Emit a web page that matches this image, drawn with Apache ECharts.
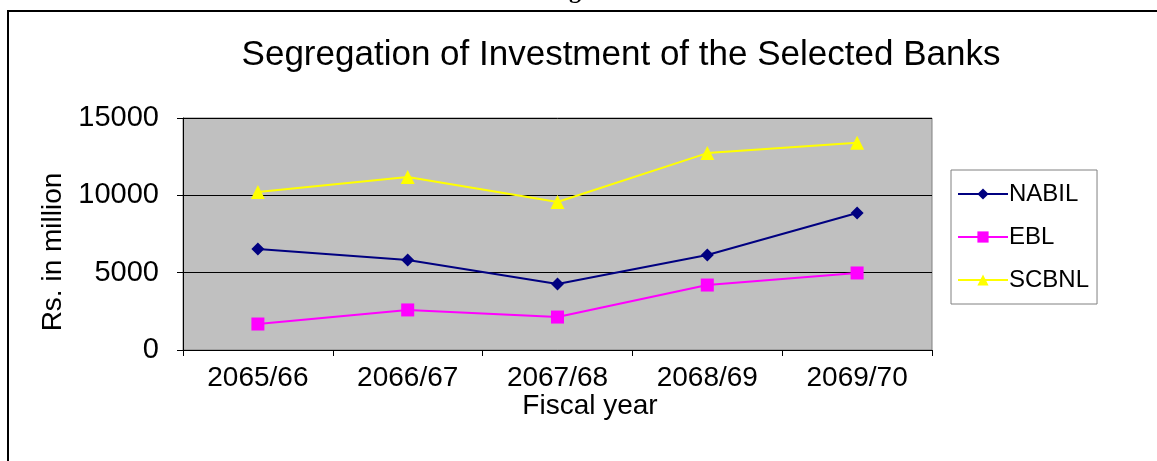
<!DOCTYPE html>
<html><head><meta charset="utf-8">
<script src="https://cdn.jsdelivr.net/npm/echarts@6/dist/echarts.min.js"></script>
<style>html,body{margin:0;padding:0;background:#fff}#c{width:1157px;height:461px}</style>
</head><body><div id="c"></div>
<script>
const categories = ['2065/66','2066/67','2067/68','2068/69','2069/70'];
const nabil = [6530, 5820, 4270, 6140, 8860];
const ebl = [1680, 2590, 2130, 4200, 4980];
const scbnl = [10210, 11180, 9570, 12730, 13400];
const yTicks = [0, 5000, 10000, 15000];

const F = 'Liberation Sans, Arial, sans-serif';
const chart = echarts.init(document.getElementById('c'));
chart.setOption({
  backgroundColor: '#ffffff',
  animation: false,
  title: {
    text: 'Segregation of Investment of the Selected Banks',
    left: 616, textAlign: 'center', top: 33,
    textStyle: {fontFamily: F, fontSize: 35, fontWeight: 'normal', color: '#000'}
  },
  grid: {left: 183, top: 118, right: 225, bottom: 111, show: true, backgroundColor: '#c0c0c0', borderColor: '#808080', borderWidth: 1},
  legend: {
    orient: 'vertical', left: 951, top: 170,
    width: 146,
    padding: [12, 8, 12, 6],
    itemGap: 19,
    itemWidth: 50, itemHeight: 14,
    borderColor: '#808080', borderWidth: 1,
    backgroundColor: '#fff',
    textStyle: {fontFamily: F, fontSize: 24, color: '#000', padding: [0,0,0,-4]},
    data: ['NABIL','EBL','SCBNL']
  },
  xAxis: {
    type: 'category', data: categories, boundaryGap: true,
    axisLine: {lineStyle: {color: '#000', width: 1}},
    axisTick: {show: true, length: 6, lineStyle: {color: '#000'}},
    axisLabel: {fontFamily: F, fontSize: 28, color: '#000', margin: 14}
  },
  yAxis: {
    type: 'value', min: yTicks[0], max: yTicks[yTicks.length-1], interval: 5000,
    axisLine: {show: true, lineStyle: {color: '#000', width: 1}},
    axisTick: {show: true, length: 6, lineStyle: {color: '#000'}},
    axisLabel: {fontFamily: F, fontSize: 29, color: '#000', margin: 24, formatter: v => String(v)},
    splitLine: {show: true, lineStyle: {color: '#000', width: 1}}
  },
  series: [
    {name: 'NABIL', type: 'line', data: nabil, symbol: 'diamond', symbolSize: 13,
     lineStyle: {color: '#000080', width: 2}, itemStyle: {color: '#000080'}},
    {name: 'EBL', type: 'line', data: ebl, symbol: 'rect', symbolSize: 13,
     lineStyle: {color: '#ff00ff', width: 2}, itemStyle: {color: '#ff00ff'}},
    {name: 'SCBNL', type: 'line', data: scbnl, symbol: 'triangle', symbolSize: 14,
     lineStyle: {color: '#ffff00', width: 2}, itemStyle: {color: '#ffff00'}}
  ],
  graphic: [
    {type: 'line', shape: {x1: 7, y1: 11, x2: 1157, y2: 11}, style: {stroke: '#000', lineWidth: 2}},
    {type: 'line', shape: {x1: 8, y1: 11, x2: 8, y2: 461}, style: {stroke: '#000', lineWidth: 2}},
    {type: 'text', x: 569, y: 4, style: {text: 'g', fontFamily: 'Liberation Serif, serif', fontWeight: 'bold', fontSize: 24, fill: '#000', textVerticalAlign: 'bottom'}},
    {type: 'text', x: 53, y: 252, rotation: Math.PI/2, style: {text: 'Rs. in million', fontFamily: F, fontSize: 28, fill: '#000', textAlign: 'center', textVerticalAlign: 'middle'}},
    {type: 'text', x: 590, y: 406, style: {text: 'Fiscal year', fontFamily: F, fontSize: 28, fill: '#000', textAlign: 'center', textVerticalAlign: 'middle'}}
  ]
});
</script></body></html>
